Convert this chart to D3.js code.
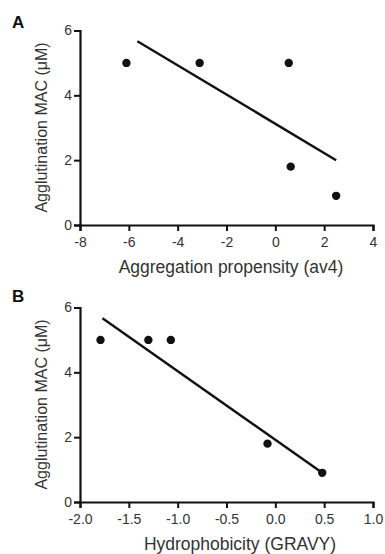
<!DOCTYPE html>
<html>
<head>
<meta charset="utf-8">
<script src="https://cdn.jsdelivr.net/npm/d3@7"></script>
<style>
  body { margin: 0; background: #fff; }
  svg text { font-family: "Liberation Sans", Arial, sans-serif; fill: #333; }
</style>
</head>
<body>
<div class="chart"></div>
<script>
// panel A data
const aggX = [-6.1, -3.1, 0.55, 0.63, 2.49];
const aggY = [5.0, 5.0, 5.0, 1.8, 0.9];
const aggFit = [[-5.65, 5.67], [2.49, 2.0]];
const aggTicksX = [-8, -6, -4, -2, 0, 2, 4];

// panel B data
const hydX = [-1.79, -1.3, -1.07, -0.08, 0.48];
const hydY = [5.0, 5.0, 5.0, 1.8, 0.9];
const hydFit = [[-1.77, 5.67], [0.48, 0.9]];
const hydTicksX = [-2.0, -1.5, -1.0, -0.5, 0.0, 0.5, 1.0];

const yTicks = [0, 2, 4, 6];

const svg = d3.select('.chart')
  .append('svg')
  .attr('width', 385)
  .attr('height', 554);

function panel(opts) {
  const top = opts.top;
  const x = d3.scaleLinear().domain(opts.xDomain).range([80, 373]);
  const y = d3.scaleLinear().domain([0, 6]).range([top + 194.5, top]);
  const g = svg.append('g');

  // X axis
  const xa = g.append('g')
    .attr('transform', `translate(0,${y(0)})`)
    .call(d3.axisBottom(x).tickValues(opts.xTicks).tickFormat(opts.fmt)
      .tickSizeOuter(0).tickSize(6).tickPadding(6));
  // Y axis
  const ya = g.append('g')
    .attr('transform', `translate(80,0)`)
    .call(d3.axisLeft(y).tickValues(yTicks).tickFormat(d => String(d))
      .tickSizeOuter(0).tickSize(6).tickPadding(2));

  [xa, ya].forEach(a => {
    a.select('.domain').attr('stroke', '#111').attr('stroke-width', 2.2);
    a.selectAll('.tick line').attr('stroke', '#111').attr('stroke-width', 2);
    a.selectAll('.tick text').attr('font-size', 14).style('fill', '#333')
      .attr('font-family', '"Liberation Sans", Arial, sans-serif');
  });

  // regression line
  g.append('line')
    .attr('x1', x(opts.fit[0][0])).attr('y1', y(opts.fit[0][1]))
    .attr('x2', x(opts.fit[1][0])).attr('y2', y(opts.fit[1][1]))
    .attr('stroke', '#111')
    .attr('stroke-width', 2.4);

  // points
  g.selectAll('.dot')
    .data(opts.xs.map((v, i) => [v, opts.ys[i]]))
    .enter()
    .append('circle')
    .attr('class', 'dot')
    .attr('cx', d => x(d[0]))
    .attr('cy', d => y(d[1]))
    .attr('r', 4.2)
    .attr('fill', '#111');

  // panel letter
  g.append('text')
    .attr('x', 12)
    .attr('y', opts.letterY)
    .attr('font-size', 17)
    .attr('font-weight', 'bold')
    .style('fill', '#111')
    .text(opts.letter);

  // x label
  g.append('text')
    .attr('x', opts.xLabelX)
    .attr('y', top + 242)
    .attr('text-anchor', 'middle')
    .attr('font-size', 17.5)
    .text(opts.xLabel);

  // y label
  g.append('text')
    .attr('transform', `translate(47,${top + 97}) rotate(-90)`)
    .attr('text-anchor', 'middle')
    .attr('font-size', 16)
    .text('Agglutination MAC (\u03bcM)');
}

panel({ top: 30.5, xDomain: [-8, 4], xTicks: aggTicksX, fmt: d => String(d),
  xs: aggX, ys: aggY, fit: aggFit, letter: 'A', letterY: 28, xLabelX: 231,
  xLabel: 'Aggregation propensity (av4)' });
panel({ top: 307.5, xDomain: [-2, 1], xTicks: hydTicksX, fmt: d => d.toFixed(1),
  xs: hydX, ys: hydY, fit: hydFit, letter: 'B', letterY: 302, xLabelX: 240,
  xLabel: 'Hydrophobicity (GRAVY)' });
</script>
</body>
</html>
